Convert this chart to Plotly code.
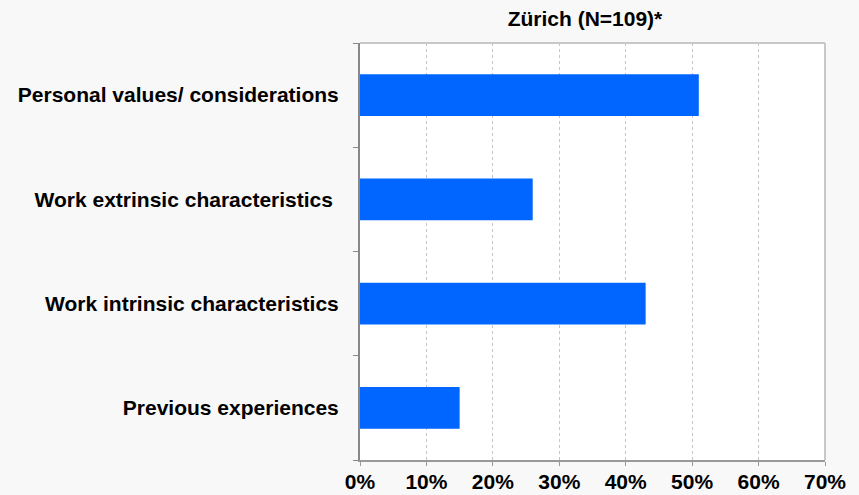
import plotly.graph_objects as go

# Datos del grafico
categorias = ["Previous experiences",
              "Work intrinsic characteristics",
              "Work extrinsic characteristics\u00a0",
              "Personal values/ considerations"]
valores = [15, 43, 26, 51]
ticks_x = [0, 10, 20, 30, 40, 50, 60, 70]
etiquetas_x = ["0%", "10%", "20%", "30%", "40%", "50%", "60%", "70%"]

fig = go.Figure()

fig.add_trace(go.Bar(
    x=valores,
    y=categorias,
    orientation='h',
    marker=dict(color='#0066ff', line=dict(width=0)),
    width=0.4,
    hoverinfo='x+y'
))

fig.update_layout(
    width=859, height=495,
    margin=dict(l=360, r=34, t=43, b=35, autoexpand=False),
    paper_bgcolor='#f8f8f8',
    plot_bgcolor='#ffffff',
    showlegend=False,
    font=dict(family='Liberation Sans, Arial, sans-serif', size=21, color='#000000'),
    title=dict(text='<b>Zürich (N=109)*</b>', x=0.681, xanchor='center',
               y=0.962, yanchor='middle', font=dict(size=21)),
    xaxis=dict(
        range=[0, 70],
        tickvals=ticks_x,
        ticktext=['<b>%s</b>' % t for t in etiquetas_x],
        showgrid=True, gridcolor='#c4c4c4', griddash='dot', gridwidth=1,
        showline=True, linecolor='#999999', linewidth=2,
        ticks='outside', ticklen=4, tickcolor='#999999',
        zeroline=False, fixedrange=True, automargin=False,
        ticklabelstandoff=-2
    ),
    yaxis=dict(
        categoryorder='array', categoryarray=categorias,
        tickvals=categorias,
        ticktext=['<b>%s</b>' % c for c in categorias],
        tickson='boundaries',
        showline=True, linecolor='#888888', linewidth=2,
        ticks='outside', ticklen=5, tickcolor='#888888',
        showgrid=False, zeroline=False, fixedrange=True, automargin=False,
        ticklabelstandoff=15
    ),
    shapes=[
        dict(type='line', xref='paper', yref='paper', x0=0, x1=1, y0=1, y1=1,
             line=dict(color='#c8c8c8', width=2)),
        dict(type='line', xref='paper', yref='paper', x0=1, x1=1, y0=0, y1=1,
             line=dict(color='#c8c8c8', width=2)),
    ]
)

# Quitar el margen del body para que el grafico ocupe toda la ventana
fig.write_html("out.html", config={'displayModeBar': False},
               post_script="document.body.style.margin='0';")
